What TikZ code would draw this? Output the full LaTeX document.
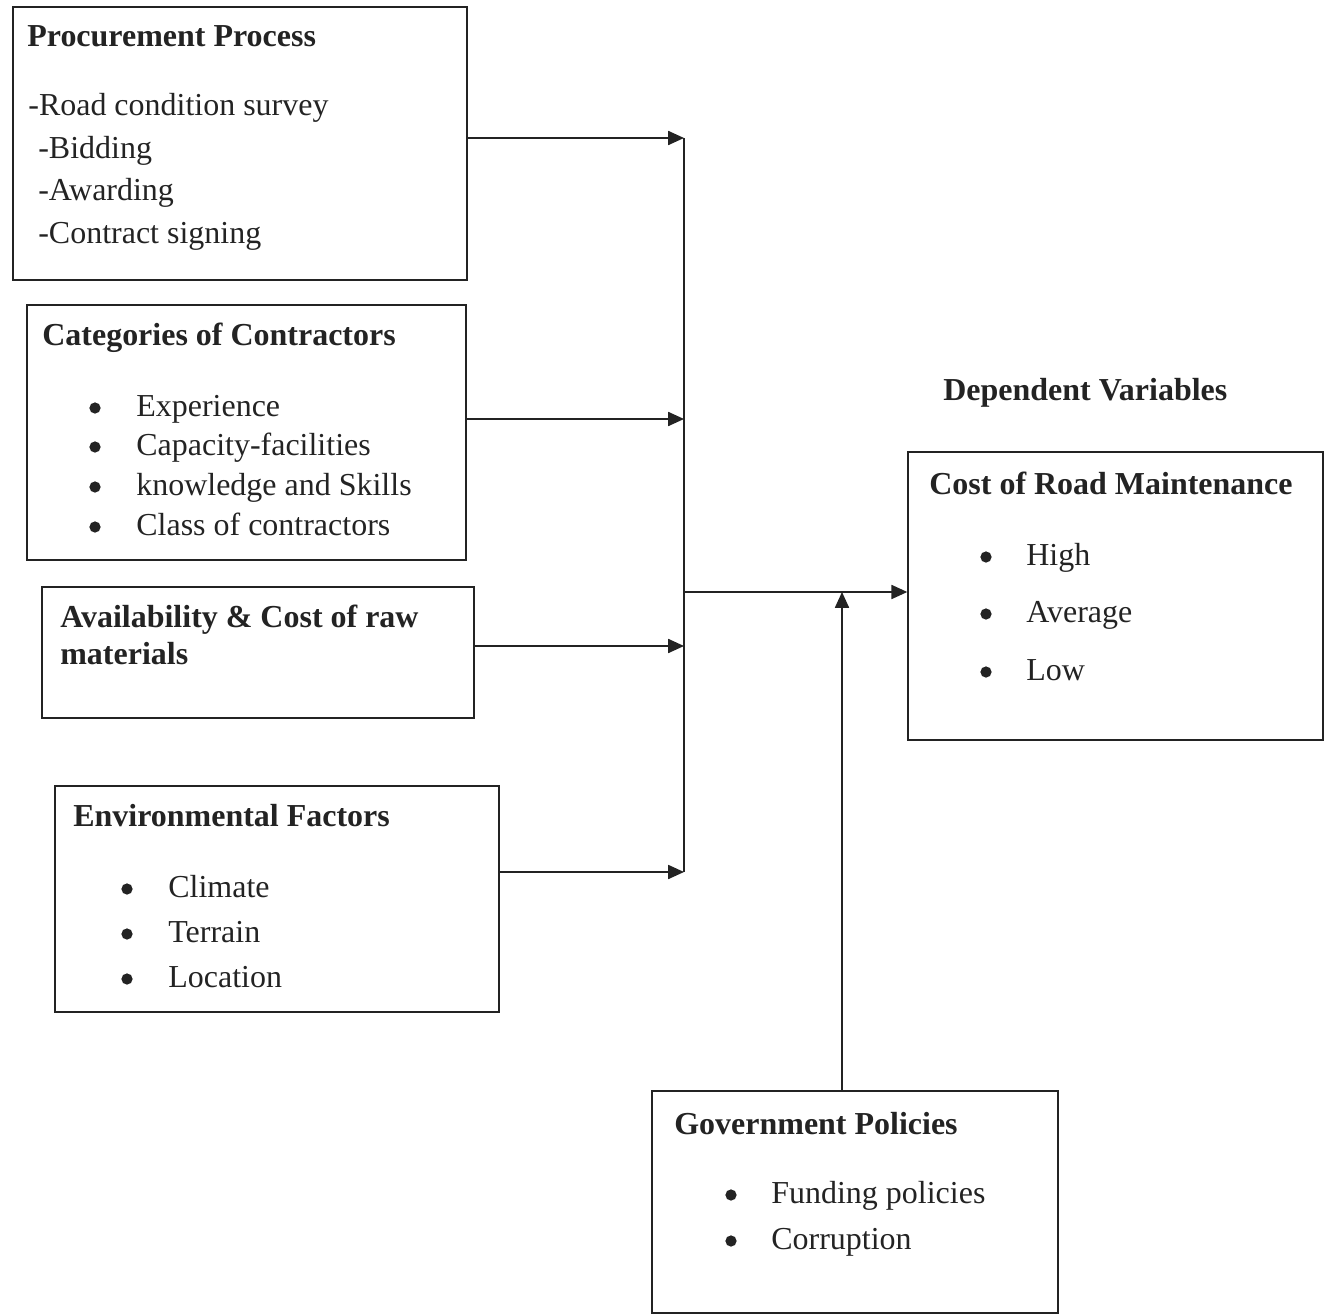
\documentclass[tikz,border=0pt]{standalone}
\usepackage{fontspec}
\setmainfont{Liberation Serif}
\usetikzlibrary{fit,arrows.meta}
\definecolor{ink}{RGB}{35,35,35}
\begin{document}
\begin{tikzpicture}[x=0.02cm,y=-0.02cm,
  box/.style={draw=ink,line width=0.8pt,inner sep=0pt,rectangle},
  txt/.style={anchor=base west,inner sep=0pt,font=\fontsize{18.2}{21}\selectfont,text=ink},
  ttl/.style={txt,font=\fontsize{18.2}{21}\selectfont\bfseries},
  bul/.style={circle,fill=ink,inner sep=0pt,minimum size=6.4pt},
  conn/.style={draw=ink,line width=0.9pt},
  arr/.style={conn,-{Triangle[length=9pt,width=8pt]}}]
\useasboundingbox (0,0) rectangle (1333,1315);
% boxes
\node[box,fit={(13,7) (467,280)}] (pp) {};
\node[box,fit={(27,305) (466,560)}] (cc) {};
\node[box,fit={(42,587) (474,718)}] (am) {};
\node[box,fit={(55,786) (499,1012)}] (ef) {};
\node[box,fit={(908,452) (1323,740)}] (cm) {};
\node[box,fit={(652,1091) (1058,1313)}] (gp) {};
% box 1 texts
\node[ttl] (t1) at (27,47) {Procurement Process};
\node[txt] (t1a) at (28,115) {-Road condition survey};
\node[txt] (t1b) at (38,158) {-Bidding};
\node[txt] (t1c) at (38,200) {-Awarding};
\node[txt] (t1d) at (38,243) {-Contract signing};
% box 2 texts
\node[ttl] (t2) at (42,345) {Categories of Contractors};
\node[bul] (b2a) at (95,408) {};
\node[bul] (b2b) at (95,447) {};
\node[bul] (b2c) at (95,487) {};
\node[bul] (b2d) at (95,527) {};
\node[txt] (t2a) at (136,416) {Experience};
\node[txt] (t2b) at (136,455) {Capacity-facilities};
\node[txt] (t2c) at (136,495) {knowledge and Skills};
\node[txt] (t2d) at (136,535) {Class of contractors};
% box 3 texts
\node[ttl] (t3a) at (60,627) {Availability \& Cost of raw};
\node[ttl] (t3b) at (60,664) {materials};
% box 4 texts
\node[ttl] (t4) at (73,826) {Environmental Factors};
\node[bul] (b4a) at (127,889) {};
\node[bul] (b4b) at (127,934) {};
\node[bul] (b4c) at (127,979) {};
\node[txt] (t4a) at (168,897) {Climate};
\node[txt] (t4b) at (168,942) {Terrain};
\node[txt] (t4c) at (168,987) {Location};
% dependent
\node[ttl] (dv) at (943,400) {Dependent Variables};
\node[ttl] (t5) at (929,494) {Cost of Road Maintenance};
\node[bul] (b5a) at (986,557) {};
\node[bul] (b5b) at (986,614) {};
\node[bul] (b5c) at (986,672) {};
\node[txt] (t5a) at (1026,565) {High};
\node[txt] (t5b) at (1026,622) {Average};
\node[txt] (t5c) at (1026,680) {Low};
% government
\node[ttl] (t6) at (674,1134) {Government Policies};
\node[bul] (b6a) at (731,1195) {};
\node[bul] (b6b) at (731,1241) {};
\node[txt] (t6a) at (771,1203) {Funding policies};
\node[txt] (t6b) at (771,1249) {Corruption};
% junctions
\coordinate (j1) at (684,138);
\coordinate (j2) at (684,419);
\coordinate (j3) at (684,646);
\coordinate (j4) at (684,872);
\coordinate (jm) at (684,592);
\coordinate (jg) at (842,592);
% connectors
\draw[arr] (pp.east |- j1) -- (j1);
\draw[arr] (cc.east |- j2) -- (j2);
\draw[arr] (am.east |- j3) -- (j3);
\draw[arr] (ef.east |- j4) -- (j4);
\draw[conn] (j1) -- (j4);
\draw[arr] (jm) -- (cm.west |- jm);
\draw[arr] (gp.north -| jg) -- (jg);
\end{tikzpicture}
\end{document}
